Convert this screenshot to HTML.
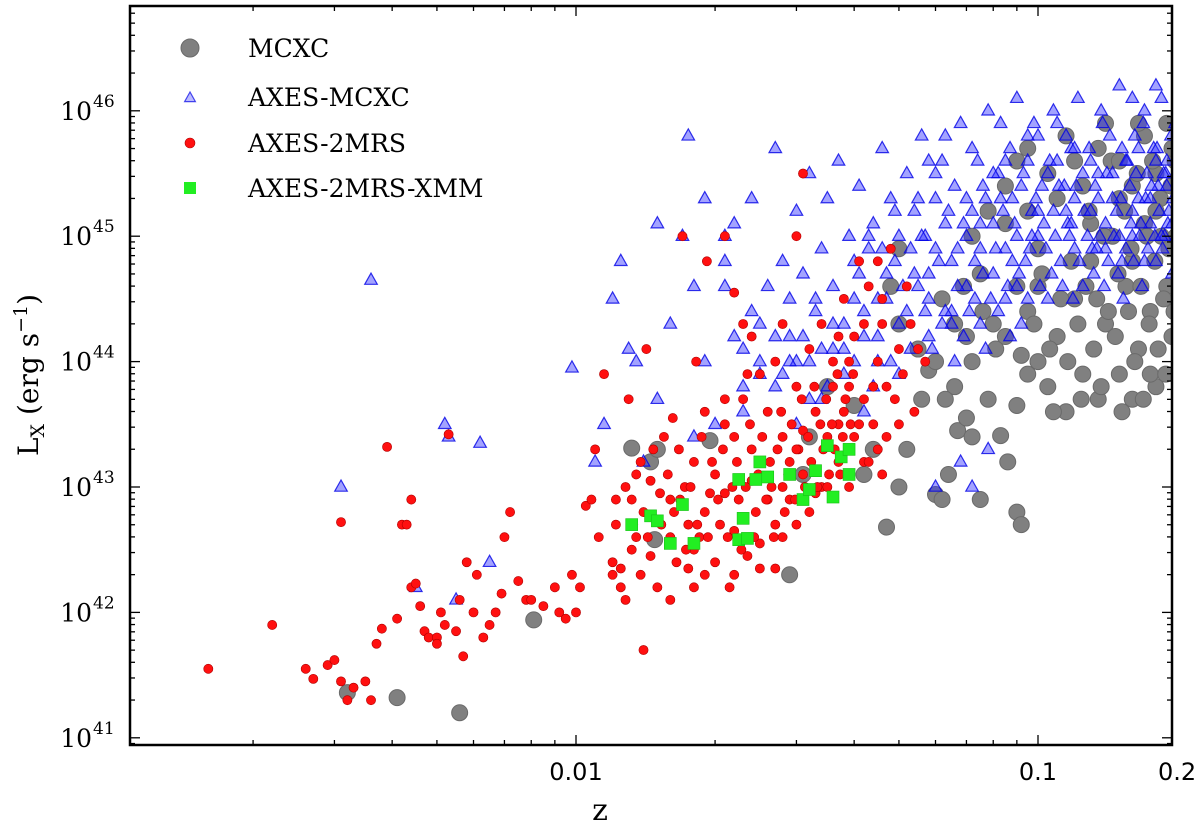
<!DOCTYPE html>
<html><head><meta charset="utf-8"><style>
html,body{margin:0;padding:0;background:#fff;}
svg{display:block;}
</style></head><body>
<svg id="chart" width="1200" height="829" xmlns="http://www.w3.org/2000/svg">
<g id="marks"></g>
<g id="axes"></g>
<g id="legend"></g>
</svg>
<script>
// ---- data (z, log10 Lx) ----
const xTickValues=[0.01,0.1,0.2];
const xTickLabels=["0.01","0.1","0.2"];
const yTickExps=[41,42,43,44,45,46];
const mcxcZ=[.0032,.0041,.0056,.0081,.0132,.0145,.015,.0148,.0195,.029,.031,.032,.035,.04,.047,.05,.06,.058,.066,.067,.083,.086,.09,.092,.055,.05,.062,.07,.075,.08,.085,.095,.1,.105,.11,.115,.12,.125,.13,.135,.14,.145,.15,.155,.16,.165,.17,.175,.18,.185,.19,.195,.198,.1,.11,.12,.13,.14,.15,.16,.17,.18,.19,.09,.095,.1,.16,.175,.05,.048,.052,.07,.072,.09,.092,
.085,.09,.095,.098,.102,.106,.108,.112,.116,.118,.122,.124,.127,.129,.132,.134,.137,.139,.142,.144,.147,.149,.152,.154,.157,.159,.162,.164,.167,.169,.172,.174,.177,.179,.182,.184,.187,.189,.192,.194,.197,.199,.06,.063,.066,.069,.072,.076,.078,.081,.072,.078,.085,.095,.105,.115,.125,.135,.15,.165,.18,.195,.056,.044,.042,.064,.075,.062];
const mcxcL=[41.36,41.32,41.2,41.94,43.31,43.2,43.3,42.58,43.37,42.3,43.1,43.4,43.8,43.65,42.68,43.0,42.94,43.93,43.8,43.45,43.41,43.2,43.65,44.05,44.1,44.9,44.5,44.2,44.7,44.3,45.1,44.4,44.0,43.8,44.2,43.6,44.5,43.9,44.8,43.7,44.3,45.0,43.9,44.6,45.4,44.1,45.8,44.4,43.8,45.0,44.6,44.2,45.6,44.9,45.3,45.6,45.1,45.9,45.3,44.8,45.1,45.5,45.9,45.6,45.2,44.6,43.7,43.9,44.3,44.6,43.3,43.55,43.4,42.8,42.7,
44.2,44.6,43.9,44.3,44.7,44.1,43.6,44.5,44.0,44.8,44.3,43.7,44.6,45.2,44.1,44.5,43.8,45.0,44.4,45.6,44.2,44.7,43.6,45.2,44.4,44.9,44.0,45.5,44.6,43.7,45.0,44.3,45.6,44.8,44.1,45.3,44.5,43.9,44.9,45.4,44.4,45.0,44.0,43.7,44.3,44.6,44.0,44.4,43.7,44.1,45.0,45.2,45.4,45.7,45.5,45.8,45.4,45.7,45.6,45.9,45.2,45.7,43.7,43.3,43.1,43.1,42.9,42.9];
const axmZ=[.0031,.0036,.0052,.0053,.0062,.0055,.0045,.0065,.0098,.011,.0115,.012,.0125,.013,.0135,.014,.015,.015,.016,.017,.0175,.018,.018,.019,.019,.02,.021,.021,.022,.022,.023,.023,.024,.024,.025,.025,.026,.027,.027,.028,.028,.029,.029,.03,.03,.031,.032,.032,.033,.034,.034,.035,.036,.036,.037,.038,.039,.04,.04,.041,.042,.043,.044,.045,.046,.047,.048,.049,.05,.05,.052,.053,.054,.055,.056,.057,.058,.06,.06,.062,.063,.065,.066,.068,.07,.07,.072,.074,.075,.077,.078,.08,.08,.082,.084,.085,.087,.088,.09,.09,.092,.094,.095,.097,.1,.1,.102,.104,.106,.108,.11,.112,.114,.116,.118,.12,.12,.122,.125,.128,.13,.132,.135,.138,.14,.142,.145,.148,.15,.152,.155,.158,.16,.162,.165,.168,.17,.172,.175,.178,.18,.182,.185,.188,.19,.192,.195,.198,.058,.065,.075,.085,.095,.05,.045,.042,.068,.072,.06,.078,.035,.03,
.052,.054,.056,.058,.061,.063,.064,.067,.069,.071,.073,.076,.079,.081,.083,.086,.089,.091,.093,.096,.099,.101,.103,.105,.107,.109,.111,.113,.115,.117,.119,.121,.123,.126,.129,.131,.133,.136,.139,.141,.143,.146,.149,.151,.153,.156,.159,.161,.163,.166,.169,.171,.173,.176,.179,.181,.183,.186,.189,.191,.194,.196,.199,.055,.06,.065,.07,.075,.08,.085,.09,.095,.1,.105,.11,.115,.12,.125,.13,.135,.14,.145,.15,.155,.16,.165,.17,.175,.18,.185,.19,.195,.045,.047,.048,.051,.053,.057,.059,.062,.066,.069,.073,.077,.082,.087,.092,.038,.04,.042,.044,.036,.033,.031,.029,.027,.025,.023,.021,.038,.034,.032,.041,.043,.046,.049,.058,.063,.072,.083,.098,.108,.137,.16,.18,.067,.076,.088,.097,.118,.134,.152,.167,.187];
const axmL=[43.0,44.65,43.5,43.4,43.35,42.1,42.2,42.4,43.95,43.2,43.5,44.5,44.8,44.1,44.0,43.2,45.1,43.7,44.3,45.0,45.8,44.6,43.4,44.0,45.3,43.5,44.8,45.0,45.1,44.2,43.8,43.6,44.4,45.3,44.0,43.9,44.6,44.2,45.7,44.8,43.9,44.5,44.2,45.2,44.0,44.7,43.7,45.5,44.4,44.9,44.1,45.3,44.6,44.3,45.6,44.1,45.0,44.5,44.8,45.4,44.2,44.9,45.1,44.5,45.7,44.7,45.3,44.8,45.0,44.3,45.5,44.9,45.2,44.6,45.8,45.0,44.7,45.3,44.9,45.6,45.1,44.8,45.4,45.9,45.0,44.6,45.2,45.6,44.9,45.3,46.0,45.1,44.7,45.5,45.2,44.9,45.7,45.3,45.0,46.1,45.4,44.8,45.6,45.2,45.0,45.8,45.4,44.9,45.6,45.2,45.9,44.8,45.4,45.1,45.7,45.3,44.9,46.1,45.5,45.0,45.6,44.7,45.3,45.9,45.1,44.8,45.5,45.2,46.2,45.7,44.9,45.4,45.0,45.8,45.3,44.6,46.0,45.5,45.1,45.7,44.8,45.4,46.1,45.0,45.6,45.2,44.7,45.9,44.2,44.4,44.3,44.5,44.5,43.9,44.0,43.6,43.2,43.0,43.0,43.3,43.8,43.5,
44.4,44.7,45.0,44.5,44.8,44.4,45.2,44.6,45.1,44.4,44.8,45.4,44.5,44.9,45.3,44.6,45.1,44.7,45.5,44.9,45.3,44.6,45.1,45.5,44.7,45.0,45.4,44.6,45.8,45.0,44.5,45.4,44.8,45.2,45.7,44.9,45.4,45.0,44.6,45.5,45.8,45.0,44.7,45.3,44.5,45.6,45.1,44.8,45.5,45.0,45.9,45.3,44.9,45.4,45.0,45.7,45.2,44.9,45.5,45.1,45.8,45.3,45.0,45.3,45.5,44.3,45.3,45.1,45.5,45.6,44.6,45.8,45.2,44.5,45.6,45.2,45.7,44.6,45.2,45.5,44.9,45.3,45.0,45.6,45.2,45.7,44.8,45.3,45.6,45.0,45.4,45.1,44.2,44.5,44.0,44.6,44.1,44.4,44.1,44.3,44.0,44.2,44.5,44.1,44.4,44.2,44.3,44.3,44.0,44.4,43.8,44.1,44.5,44.2,44.0,43.8,44.3,44.1,44.6,43.9,43.7,44.0,44.7,45.0,44.9,45.2,45.6,45.8,45.7,45.9,45.9,46.0,46.0,46.1,46.2,44.9,44.7,44.8,45.0,45.1,44.9,44.8,45.1,45.5];
const ax2Z=[.0016,.0022,.0026,.0027,.0029,.003,.0031,.0033,.0035,.0036,.0032,.0031,.0039,.0037,.0038,.0041,.0042,.0043,.0044,.0044,.0045,.0046,.0047,.0048,.005,.005,.0051,.0052,.0053,.0055,.0056,.0057,.0058,.006,.0061,.0063,.0065,.0067,.0069,.007,.0072,.0075,.0078,.008,.0085,.009,.0092,.0095,.0098,.01,.0102,.0105,.0108,.011,.0112,.0115,.012,.0122,.0125,.013,.0128,.0132,.0135,.0138,.014,.014,.0142,.0145,.015,.0152,.0155,.016,.0162,.0165,.017,.0168,.0172,.0175,.018,.0182,.0185,.019,.0192,.0195,.02,.02,.0205,.021,.021,.0215,.022,.022,.0225,.023,.023,.0235,.024,.024,.0245,.025,.025,.026,.0265,.027,.027,.028,.028,.029,.029,.03,.03,.031,.031,.032,.032,.033,.034,.034,.035,.036,.036,.037,.038,.038,.039,.04,.04,.042,.043,.044,.045,.045,.046,.047,.048,.05,.05,.052,.053,.055,.057,.045,.035,.028,.026,.022,.018,.016,.0132,.024,.031,.033,.037,.03,.025,.021,.019,.0175,.0135,.0125,.039,.042,.046,
.0122,.0128,.0133,.0138,.0143,.0147,.0153,.0158,.0163,.0167,.0173,.0177,.0183,.0187,.0193,.0197,.0203,.0208,.0213,.0218,.0223,.0228,.0233,.0238,.0243,.0248,.0253,.0258,.0263,.0268,.0273,.0278,.0283,.0288,.0293,.0298,.0303,.0308,.0313,.0318,.0323,.0328,.0333,.0338,.0343,.0348,.0353,.0358,.0363,.0368,.0373,.0378,.0383,.0388,.0393,.0398,.041,.043,.044,.047,.049,.051,.054,.046,.042,.039,.037,.041,.025,.022,.018,.016,.0145,.012,.019,.021,.0235,.028,.027,.03];
const ax2L=[41.55,41.9,41.55,41.47,41.58,41.62,41.45,41.4,41.45,41.3,41.3,42.72,43.32,41.75,41.87,41.95,42.7,42.7,42.9,42.2,42.23,42.05,41.85,41.8,41.8,41.75,42.0,41.9,43.42,41.85,42.1,41.65,42.4,42.0,42.3,41.8,41.9,42.0,42.15,42.6,42.8,42.25,42.1,42.1,42.05,42.2,42.0,41.95,42.3,42.0,42.2,42.85,42.9,43.3,42.6,43.9,42.4,42.7,42.2,43.7,42.1,42.9,43.1,42.3,42.8,41.7,44.1,43.05,42.2,42.95,43.4,42.6,43.55,42.4,45.0,42.9,43.0,42.35,43.2,44.0,42.6,42.8,44.8,42.95,43.1,42.4,42.7,43.5,45.0,42.2,43.4,44.55,42.9,43.7,44.3,42.45,43.3,44.2,42.8,43.9,42.55,43.6,43.0,44.0,42.7,43.4,44.3,43.2,42.9,45.0,43.8,45.5,43.45,44.1,42.8,43.6,43.0,44.3,43.4,43.8,44.0,43.2,43.6,44.5,43.0,43.4,44.2,43.7,44.6,43.5,44.0,43.3,44.3,43.8,44.9,44.1,43.5,44.6,44.3,44.1,44.0,44.8,43.0,43.0,42.9,42.65,42.5,42.9,42.5,43.05,43.1,42.95,43.5,42.7,43.2,42.95,42.3,42.7,42.6,42.35,43.8,43.2,43.1,
42.9,43.0,42.7,43.2,42.6,43.3,42.7,43.1,42.8,43.3,42.5,43.0,42.7,43.4,42.6,43.2,42.9,43.3,42.6,43.0,43.2,42.5,43.0,43.5,42.6,43.1,43.4,42.9,43.2,42.6,43.3,43.6,42.8,43.1,43.5,42.9,43.3,43.7,43.0,43.4,43.2,43.8,43.0,43.5,43.3,43.7,43.1,43.5,43.3,43.9,43.1,43.4,43.7,43.3,43.5,43.9,43.5,43.2,43.8,43.4,43.7,43.9,43.6,44.5,44.3,44.0,44.2,44.8,42.35,42.3,42.2,42.1,42.45,42.3,43.6,43.7,43.9,42.6,42.35,43.3];
const xmmZ=[.0132,.0145,.015,.016,.017,.018,.0225,.0225,.023,.0235,.0245,.025,.026,.029,.031,.032,.033,.035,.036,.0375,.039,.039];
const xmmL=[42.7,42.77,42.73,42.55,42.86,42.55,43.06,42.58,42.75,42.59,43.06,43.2,43.08,43.1,42.9,42.98,43.13,43.33,42.92,43.24,43.3,43.1];

// ---- axes ----
const PL=130,PR=1172,PT=6,PB=745;
const XD=462, x01=576;
function xs(z){return x01+(Math.log10(z)+2)*XD;}
const YD=125.4, y43=487;
function ys(l){return y43-(l-43)*YD;}
const NS="http://www.w3.org/2000/svg";
function mk(tag,attrs,parent){const e=document.createElementNS(NS,tag);for(const k in attrs)e.setAttribute(k,attrs[k]);parent.appendChild(e);return e;}
const marks=document.getElementById('marks'),axes=document.getElementById('axes'),leg=document.getElementById('legend');
const cp=mk('clipPath',{id:'clip'},marks);
mk('rect',{x:PL,y:PT,width:PR-PL,height:PB-PT},cp);
const mg=mk('g',{'clip-path':'url(#clip)'},marks);

function tri(cx,cy,s){return `${cx},${cy-s} ${cx-s*0.9},${cy+s*0.6} ${cx+s*0.9},${cy+s*0.6}`;}
mcxcZ.forEach((z,i)=>{const c=mk('circle',{cx:xs(z),cy:ys(mcxcL[i]),r:8,fill:'#808080',stroke:'#6a6a6a','stroke-width':1},mg);

});
axmZ.forEach((z,i)=>{const p=mk('polygon',{points:tri(xs(z),ys(axmL[i]),7),fill:'rgba(50,50,255,0.45)',stroke:'rgba(0,0,230,0.8)','stroke-width':1.2},mg);

});
ax2Z.forEach((z,i)=>{const c=mk('circle',{cx:xs(z),cy:ys(ax2L[i]),r:4.6,fill:'#ff1010',stroke:'#b00000','stroke-width':0.6},mg);

});
xmmZ.forEach((z,i)=>{const r=mk('rect',{x:xs(z)-6,y:ys(xmmL[i])-6,width:12,height:12,fill:'#22ee22',stroke:'#18c018','stroke-width':0.6},mg);

});

const fr=mk('rect',{x:PL,y:PT,width:PR-PL,height:PB-PT,fill:'none',stroke:'#000','stroke-width':2.5},axes);


for(let d=-3;d<=-1;d++){for(let m=1;m<=9;m++){const v=m*Math.pow(10,d);const x=xs(v);if(x<PL||x>PR)continue;const L=m===1?10:5;
mk('line',{x1:x,y1:PB,x2:x,y2:PB-L,stroke:'#000','stroke-width':1.3},axes);mk('line',{x1:x,y1:PT,x2:x,y2:PT+L,stroke:'#000','stroke-width':1.3},axes);}}
xTickValues.forEach((v,i)=>{const t=mk('text',{x:xs(v),y:780,'text-anchor':'middle','font-family':'DejaVu Sans, sans-serif','font-size':24},axes);t.textContent=xTickLabels[i];

});
for(let d=40;d<=46;d++){for(let m=1;m<=9;m++){const l=d+Math.log10(m);const y=ys(l);if(y<PT||y>PB)continue;const L=m===1?10:5;
mk('line',{x1:PL,y1:y,x2:PL+L,y2:y,stroke:'#000','stroke-width':1.3},axes);mk('line',{x1:PR,y1:y,x2:PR-L,y2:y,stroke:'#000','stroke-width':1.3},axes);}}
yTickExps.forEach(e=>{const t=mk('text',{x:92,y:ys(e)+9,'text-anchor':'end','font-family':'DejaVu Serif, serif','font-size':25},axes);t.textContent='10';


const s=mk('text',{x:93,y:ys(e)-4,'font-family':'DejaVu Serif, serif','font-size':17},axes);s.textContent=String(e);

});
const xt=mk('text',{x:600,y:820,'text-anchor':'middle','font-family':'DejaVu Serif, serif','font-size':30},axes);xt.textContent='z';


const yt=mk('text',{transform:'translate(38,375) rotate(-90)','text-anchor':'middle','font-family':'DejaVu Serif, serif','font-size':28},axes);
yt.innerHTML='L<tspan font-size="19" dy="6">X</tspan><tspan dy="-6"> (erg s</tspan><tspan font-size="19" dy="-11">−1</tspan><tspan dy="11">)</tspan>';



const legItems=[['MCXC',48],['AXES-MCXC',97],['AXES-2MRS',143],['AXES-2MRS-XMM',188]];
mk('circle',{cx:190,cy:48,r:9,fill:'#808080',stroke:'#6a6a6a'},leg);
mk('polygon',{points:tri(190,98,6),fill:'rgba(60,60,255,0.35)',stroke:'rgba(0,0,230,0.7)','stroke-width':1.2},leg);
mk('circle',{cx:190,cy:143,r:5,fill:'#ff1010',stroke:'#b00000','stroke-width':0.6},leg);
mk('rect',{x:184,y:182,width:12,height:12,fill:'#22ee22'},leg);
legItems.forEach(([t,y])=>{const e=mk('text',{x:248,y:y+9,'font-family':'DejaVu Serif, serif','font-size':25},leg);e.textContent=t;

});
</script>
</body></html>
